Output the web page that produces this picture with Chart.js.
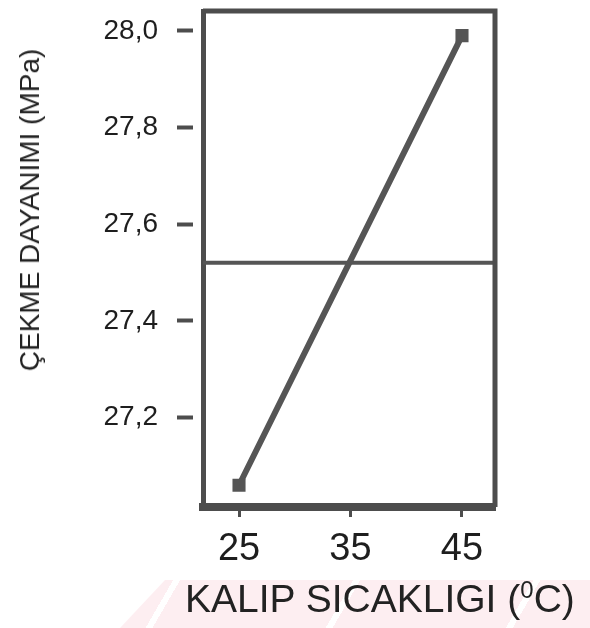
<!DOCTYPE html>
<html>
<head>
<meta charset="utf-8">
<script src="https://cdn.jsdelivr.net/npm/chart.js@4.4.1/dist/chart.umd.min.js"></script>
<style>
  html, body { margin: 0; padding: 0; background: #fff; }
  #wrap { position: relative; width: 590px; height: 628px; overflow: hidden; }
  #band {
    position: absolute; left: 0; top: 580px; width: 590px; height: 48px;
    background: repeating-linear-gradient(120deg, #fdeef1 0px, #fdeef1 150px, #fff 150px, #fff 156px);
    clip-path: polygon(165px 0, 590px 0, 590px 48px, 120px 48px);
  }
  canvas { position: absolute; left: 0; top: 0; }
  .title { position: absolute; font-family: "Liberation Sans", Arial, sans-serif; color: #222; white-space: nowrap; }
  #xTitle { left: 185px; top: 577px; font-size: 39px; }
  #xTitle sup { font-size: 24px; vertical-align: 14px; line-height: 0; }
  #yTitle { left: 30px; top: 210px; font-size: 28px; transform: translate(-50%, -50%) rotate(-90deg); }
</style>
</head>
<body>
<div id="wrap">
  <div id="band"></div>
  <canvas id="chart" width="590" height="628"></canvas>
  <div class="title" id="xTitle">KALIP SICAKLIGI (<sup>0</sup>C)</div>
  <div class="title" id="yTitle">ÇEKME DAYANIMI (MPa)</div>
</div>
<script>
const temperatures = [25, 35, 45];
const strength = [27.06, 27.525, 27.99];
const meanStrength = 27.52;
const xTicks = [25, 35, 45];
const yTicks = [27.2, 27.4, 27.6, 27.8, 28.0];
const xRange = [21.77, 47.96];
const yRange = [27.015, 28.041];

const ink = "#4d4d4d";

// top and right edges of the frame
const framePlugin = {
  id: "frame",
  afterDatasetsDraw(chart) {
    const { ctx, chartArea: a } = chart;
    ctx.save();
    ctx.strokeStyle = ink;
    ctx.lineWidth = 5;
    ctx.beginPath();
    ctx.moveTo(a.left, a.top);
    ctx.lineTo(a.right, a.top);
    ctx.lineTo(a.right, a.bottom);
    ctx.stroke();
    ctx.restore();
  }
};

function noPad(s) {
  s.paddingTop = 0;
  s.paddingBottom = 0;
  s.paddingLeft = 0;
  s.paddingRight = 0;
}

new Chart(document.getElementById("chart").getContext("2d"), {
  type: "line",
  data: {
    datasets: [
      {
        data: temperatures.map((t, i) => ({ x: t, y: strength[i] })),
        borderColor: "#555",
        backgroundColor: "#555",
        borderWidth: 6,
        borderCapStyle: "round",
        pointStyle: "rect",
        pointRadius: [5, 0, 5],
        tension: 0
      },
      {
        data: xRange.map(t => ({ x: t, y: meanStrength })),
        borderColor: "#555",
        borderWidth: 4,
        pointRadius: 0
      }
    ]
  },
  options: {
    responsive: false,
    animation: false,
    layout: { padding: { left: 0, top: 8, right: 95, bottom: 0 } },
    plugins: { legend: { display: false }, tooltip: { enabled: false } },
    scales: {
      x: {
        type: "linear",
        min: xRange[0],
        max: xRange[1],
        afterFit: s => { s.height = 121; noPad(s); },
        afterBuildTicks: s => { s.ticks = xTicks.map(v => ({ value: v })); },
        border: { display: true, color: ink, width: 8 },
        grid: { drawOnChartArea: false, drawTicks: true, tickLength: 10, tickWidth: 3, tickColor: ink },
        ticks: {
          padding: 10,
          color: "#1e1e1e",
          font: { family: "'Liberation Sans', Arial, sans-serif", size: 38 },
          callback: v => String(v)
        }
      },
      y: {
        type: "linear",
        min: yRange[0],
        max: yRange[1],
        afterFit: s => { s.width = 203; noPad(s); },
        afterBuildTicks: s => { s.ticks = yTicks.map(v => ({ value: v })); },
        border: { display: true, color: ink, width: 5 },
        grid: {
          drawOnChartArea: false, drawTicks: true, tickLength: 26, tickWidth: 4,
          tickColor: ink, tickBorderDash: [16, 40]
        },
        ticks: {
          padding: 19,
          color: "#1e1e1e",
          font: { family: "'Liberation Sans', Arial, sans-serif", size: 28 },
          callback: v => v.toFixed(1).replace(".", ",")
        }
      }
    }
  },
  plugins: [framePlugin]
});
</script>
</body>
</html>
